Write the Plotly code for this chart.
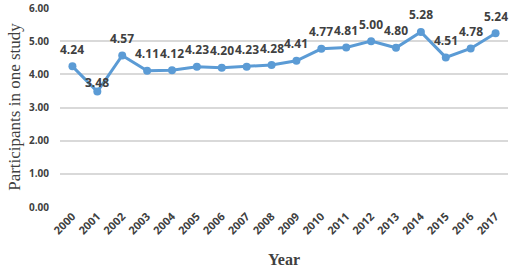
import plotly.graph_objects as go

years = [str(y) for y in range(2000, 2018)]
values = [4.24, 3.48, 4.57, 4.11, 4.12, 4.23, 4.20, 4.23, 4.28, 4.41,
          4.77, 4.81, 5.00, 4.80, 5.28, 4.51, 4.78, 5.24]
y_ticks = [0, 1, 2, 3, 4, 5, 6]

fig = go.Figure()
fig.add_trace(go.Scatter(
    x=years, y=values, mode="lines+markers",
    line=dict(color="#5B9BD5", width=3),
    marker=dict(color="#5B9BD5", size=8),
    cliponaxis=False,
))
for i, v in enumerate(values):
    fig.add_annotation(
        x=i, y=v, xref="x", yref="y", text=f"{v:.2f}", showarrow=False,
        yshift=9 if v < 3.6 else 17,
        font=dict(family="Open Sans", size=12, color="#404040", weight="bold"),
    )
fig.update_layout(
    width=513, height=268,
    margin=dict(l=60, r=5, t=7, b=61),
    plot_bgcolor="white", paper_bgcolor="white",
    showlegend=False,
    xaxis=dict(
        type="category", range=[-0.5, 17.5], tickangle=-45, automargin=False,
        tickfont=dict(family="Open Sans", size=11, color="#404040", weight="bold"),
        showgrid=False, showline=False, ticks="",
        title=dict(text="<b>Year</b>", font=dict(family="Liberation Serif", size=16, color="#404040"), standoff=17),
    ),
    yaxis=dict(
        range=[0, 6.03], tickvals=y_ticks, tickformat=".2f", automargin=False,
        ticks="outside", ticklen=8, tickcolor="rgba(0,0,0,0)",
        tickfont=dict(family="Open Sans", size=10, color="#404040", weight="bold"),
        gridcolor="#D9D9D9", gridwidth=1.5, zeroline=False, showline=False,
        title=dict(text="Participants in one study", font=dict(family="Liberation Serif", size=17, color="#404040"), standoff=4),
    ),
)
fig.write_html(
    "out.html",
    config={"displayModeBar": False},
    post_script="document.body.style.margin='0';document.body.style.overflow='hidden';",
)
